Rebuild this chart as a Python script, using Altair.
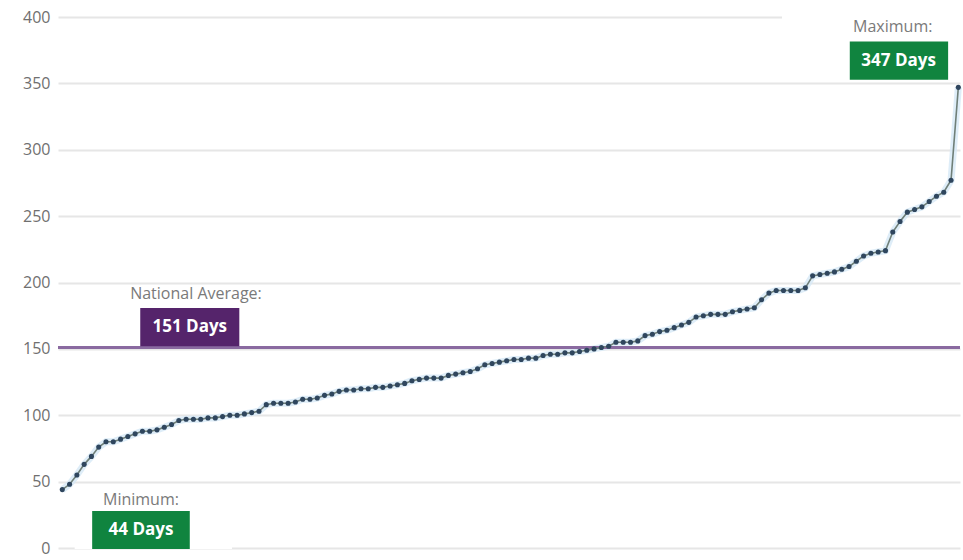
import altair as alt
import pandas as pd

# Days per area, sorted from lowest to highest
days = [
    44, 48, 55, 63, 69, 76, 80, 80, 82, 84,
    86, 88, 88, 89, 91, 93, 96, 97, 97, 97,
    98, 98, 99, 100, 100, 101, 102, 103, 108, 109,
    109, 109, 110, 112, 112, 113, 115, 116, 118, 119,
    119, 120, 120, 121, 121, 122, 123, 124, 126, 127,
    128, 128, 128, 130, 131, 132, 133, 135, 138, 139,
    140, 141, 142, 142, 143, 143, 145, 146, 146, 147,
    147, 148, 149, 150, 151, 152, 155, 155, 155, 156,
    160, 161, 163, 164, 166, 168, 170, 174, 175, 176,
    176, 176, 178, 179, 180, 181, 187, 192, 194, 194,
    194, 194, 196, 205, 206, 207, 208, 210, 212, 216,
    220, 222, 223, 224, 238, 246, 253, 255, 257, 261,
    265, 268, 277, 347,
]
rank = list(range(len(days)))
national_average = 151
y_ticks = [0, 50, 100, 150, 200, 250, 300, 350, 400]

# Annotation labels and their anchor positions (rank, days)
label_texts = ["National Average:", "Minimum:", "Maximum:"]
label_x = [18.35, 10.8, 114.0]
label_y = [191.5, 36.5, 392.5]

badge_texts = ["151 Days", "44 Days", "347 Days"]
badge_colors = ["#55246b", "#10843f", "#10843f"]
badge_x1 = [10.7, 4.1, 108.1]
badge_x2 = [24.3, 17.5, 121.6]
badge_y1 = [152.0, -0.8, 352.8]
badge_y2 = [180.8, 27.8, 381.5]
badge_tx = [17.5, 10.8, 114.8]
badge_ty = [166.4, 13.2, 367.0]

# White panels behind the min / max annotations
panel_x1 = [1.7, 98.8]
panel_x2 = [23.3, 124.5]
panel_y1 = [-0.8, 398.4]
panel_y2 = [44.4, 413.0]

series = pd.DataFrame({"rank": rank, "days": days})
labels = pd.DataFrame({"text": label_texts, "x": label_x, "y": label_y})
badges = pd.DataFrame({
    "text": badge_texts, "color": badge_colors,
    "x1": badge_x1, "x2": badge_x2, "y1": badge_y1, "y2": badge_y2,
    "tx": badge_tx, "ty": badge_ty,
})
panels = pd.DataFrame({"x1": panel_x1, "x2": panel_x2, "y1": panel_y1, "y2": panel_y2})
avg = pd.DataFrame({"days": [national_average]})

FONT = "Open Sans"

x_scale = alt.Scale(domain=[-0.59, 123.23], nice=False, zero=False)
y_scale = alt.Scale(domain=[0, 400], nice=False)

# One shared axis definition so every layer agrees on it
y_axis = alt.Axis(
    values=y_ticks, title=None, domain=False, ticks=False, labelPadding=8,
    labelFontSize=16, labelColor="#707070", labelFont=FONT,
    gridColor="#e6e6e6", gridWidth=2,
)


def X(field):
    return alt.X(field, scale=x_scale, axis=None)


def Y(field):
    return alt.Y(field, scale=y_scale, axis=y_axis)


panel_layer = alt.Chart(panels).mark_rect(color="white").encode(
    x=X("x1:Q"), x2="x2:Q", y=Y("y1:Q"), y2="y2:Q",
)

avg_rule = alt.Chart(avg).mark_rule(color="#8a6aa0", strokeWidth=3).encode(
    y=Y("days:Q")
)

halo = alt.Chart(series).mark_line(color="#d6e8f6", strokeWidth=7, opacity=0.8).encode(
    x=X("rank:Q"), y=Y("days:Q")
)
line = alt.Chart(series).mark_line(color="#6f7f78", strokeWidth=1.6).encode(
    x=X("rank:Q"), y=Y("days:Q")
)
points = alt.Chart(series).mark_circle(color="#2f465e", size=26, opacity=1).encode(
    x=X("rank:Q"), y=Y("days:Q")
)

label_layer = alt.Chart(labels).mark_text(
    font=FONT, fontSize=16, color="#7a7a7a", align="center", baseline="middle"
).encode(
    x=X("x:Q"), y=Y("y:Q"), text="text:N",
)

badge_rects = alt.Chart(badges).mark_rect().encode(
    x=X("x1:Q"), x2="x2:Q", y=Y("y1:Q"), y2="y2:Q",
    color=alt.Color("color:N", scale=None),
)
badge_text = alt.Chart(badges).mark_text(
    font=FONT, fontSize=17, fontWeight="bold", color="white",
    align="center", baseline="middle",
).encode(
    x=X("tx:Q"), y=Y("ty:Q"), text="text:N",
)

chart = alt.layer(
    halo, panel_layer, avg_rule, line, points, label_layer, badge_rects, badge_text
).properties(
    width=902, height=531,
    autosize=alt.AutoSizeParams(type="none"),
    padding={"left": 58, "top": 17, "right": 3, "bottom": 12},
    background="white",
).configure_view(stroke=None)

chart.save("out.html", embed_options={"renderer": "svg", "actions": False})
